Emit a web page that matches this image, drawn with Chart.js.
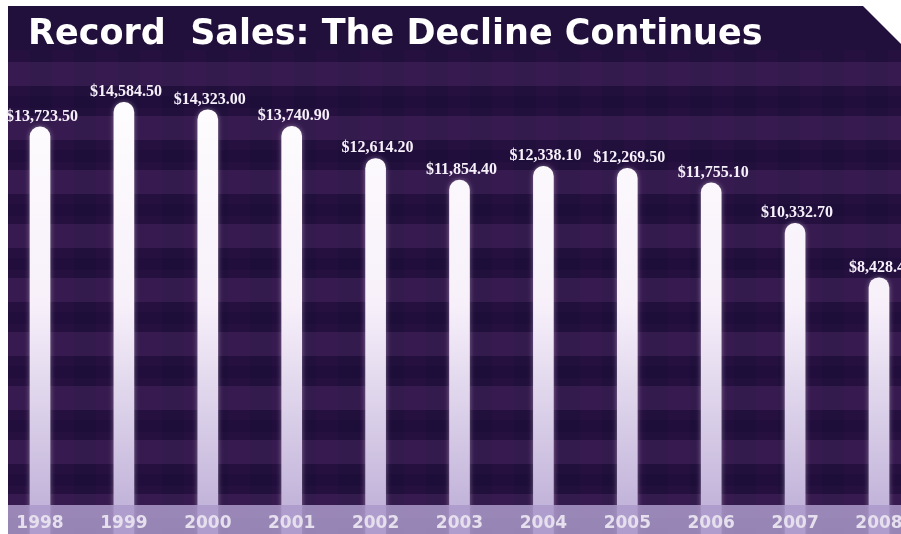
<!DOCTYPE html>
<html>
<head>
<meta charset="utf-8">
<script src="https://cdn.jsdelivr.net/npm/chart.js@4.4.0/dist/chart.umd.min.js"></script>
<style>
html,body{margin:0;padding:0;background:#fff;}
</style>
</head>
<body>
<canvas id="grafico" width="901" height="534"></canvas>
<script>
// datos
const years = ["1998", "1999", "2000", "2001", "2002", "2003", "2004", "2005", "2006", "2007", "2008"];
const sales = [13723.50, 14584.50, 14323.00, 13740.90, 12614.20, 11854.40, 12338.10, 12269.50, 11755.10, 10332.70, 8428.40];
const chartTitle = "Record  Sales: The Decline Continues";

const ctx = document.getElementById("grafico").getContext("2d");

// fondo morado con franjas + esquina cortada
const fondo = {
    id: "fondo",
    beforeDraw(chart) {
        const c = chart.ctx, W = chart.width, H = chart.height;
        c.save();
        c.fillStyle = "#ffffff";
        c.fillRect(0, 0, W, H);
        c.beginPath();
        c.moveTo(8, 6);
        c.lineTo(863, 6);
        c.lineTo(W, 44);
        c.lineTo(W, H);
        c.lineTo(8, H);
        c.closePath();
        c.clip();
        c.fillStyle = "#210f3c";
        c.fillRect(0, 0, W, H);
        // franjas horizontales
        for (let y = 62; y < H; y += 54) {
            c.fillStyle = "rgba(92,52,118,0.32)";
            c.fillRect(0, y, W, 24);
            c.fillStyle = "rgba(18,6,46,0.25)";
            c.fillRect(0, y + 34, W, 12);
        }
        // franjas verticales suaves
        for (let x = 8; x < W; x += 44) {
            c.fillStyle = "rgba(100,40,120,0.08)";
            c.fillRect(x, 50, 22, H);
        }
        c.restore();
    },
    beforeDatasetsDraw(chart) {
        const c = chart.ctx;
        c.save();
        c.shadowColor = "rgba(255,235,255,0.4)";
        c.shadowBlur = 5;
    },
    afterDatasetsDraw(chart) {
        const c = chart.ctx, W = chart.width, H = chart.height;
        const area = chart.chartArea;
        c.restore();
        // banda inferior (semi transparente, las barras se ven debajo)
        c.save();
        c.fillStyle = "rgba(172,154,202,0.85)";
        c.fillRect(8, area.bottom, W - 8, H - area.bottom);
        c.restore();
        // etiquetas de valor
        const meta = chart.getDatasetMeta(0);
        c.save();
        c.fillStyle = "#f6f0fa";
        c.font = "bold 16px 'Liberation Serif'";
        c.textAlign = "center";
        c.textBaseline = "alphabetic";
        meta.data.forEach((bar, i) => {
            const txt = "$" + sales[i].toLocaleString("en-US", {minimumFractionDigits: 2, maximumFractionDigits: 2});
            c.fillText(txt, bar.x + 2, bar.y - 6);
        });
        c.restore();
    }
};

const myChart = new Chart(ctx, {
    type: "bar",
    data: {
        labels: years,
        datasets: [{
            label: "Record Sales",
            data: sales,
            base: -600,
            clip: false,
            barThickness: 20,
            borderRadius: {topLeft: 10, topRight: 10, bottomLeft: 0, bottomRight: 0},
            borderSkipped: false,
            backgroundColor: function(context) {
                const chart = context.chart;
                const area = chart.chartArea;
                if (!area) return "#ffffff";
                const g = chart.ctx.createLinearGradient(0, area.top, 0, area.bottom);
                g.addColorStop(0, "#ffffff");
                g.addColorStop(0.55, "#f7f0fa");
                g.addColorStop(1, "#c2b4da");
                return g;
            }
        }]
    },
    options: {
        responsive: false,
        animation: false,
        layout: {
            padding: {left: 28, right: 22, top: 0, bottom: 0}
        },
        plugins: {
            legend: {display: false},
            tooltip: {enabled: false},
            title: {
                display: true,
                text: chartTitle,
                align: "start",
                color: "#ffffff",
                font: {family: "'DejaVu Sans'", size: 35, weight: "bold"},
                padding: {top: 14, bottom: 6}
            }
        },
        scales: {
            x: {
                offset: false,
                grid: {display: false, drawTicks: false},
                border: {display: false},
                ticks: {
                    z: 1,
                    color: "#e6e0ee",
                    font: {family: "'DejaVu Sans'", size: 17, weight: "bold", lineHeight: 1},
                    padding: 10,
                    maxRotation: 0,
                    autoSkip: false
                },
                afterFit: function(scale) {
                    scale.height = 29;
                    scale.paddingLeft = 0;
                    scale.paddingRight = 0;
                }
            },
            y: {
                min: 450,
                max: 16000,
                grid: {display: false, drawTicks: false},
                border: {display: false},
                ticks: {display: false},
                afterFit: function(scale) { scale.width = 12; }
            }
        }
    },
    plugins: [fondo]
});
</script>
</body>
</html>
